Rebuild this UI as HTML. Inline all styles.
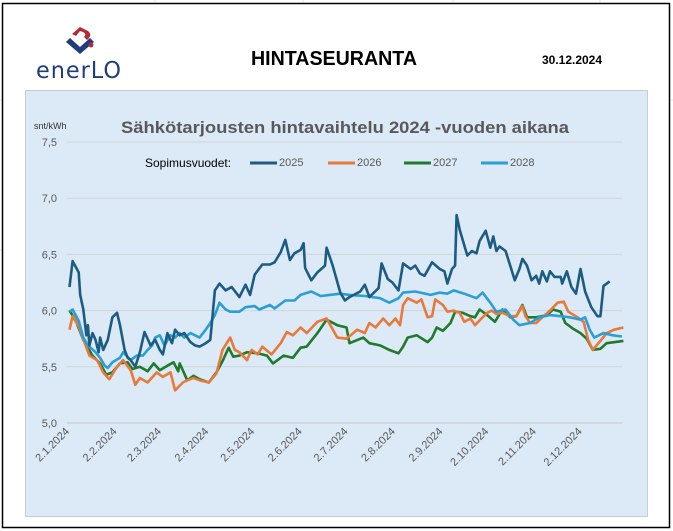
<!DOCTYPE html>
<html><head><meta charset="utf-8"><style>
html,body{margin:0;padding:0;background:#fff;}
svg{display:block;font-family:"Liberation Sans",sans-serif;}
</style></head><body>
<svg id="page" width="673" height="531" viewBox="0 0 673 531" xmlns="http://www.w3.org/2000/svg">
<g stroke="#e6e6e6" stroke-width="1">
<line x1="155" y1="0" x2="155" y2="4"/><line x1="303" y1="0" x2="303" y2="4"/><line x1="453" y1="0" x2="453" y2="4"/><line x1="600" y1="0" x2="600" y2="4"/>
<line x1="0" y1="100" x2="2" y2="100"/><line x1="0" y1="250" x2="2" y2="250"/><line x1="671" y1="100" x2="673" y2="100"/>
</g>
<rect x="2.5" y="3.5" width="667" height="524" fill="#fff" stroke="#000" stroke-width="1.5"/>
<g>
<path d="M66 42 L80 54 L94 42 L90 38 L80 47 L70 38 Z" fill="#1f3d7a"/>
<path d="M72 34 L80 27 L88 31 Q93 35 87 40 L84 37 Q87 34 83 32 L80 31 L76 36 Z" fill="#b52a38"/>
<circle cx="91" cy="45" r="2.5" fill="#b52a38"/>
<text x="36" y="78" font-size="23" fill="#1f3d7a" letter-spacing="1" font-family="DejaVu Sans,sans-serif" textLength="86" lengthAdjust="spacingAndGlyphs">enerLO</text>
</g>
<text x="334" y="65" font-size="20" font-weight="bold" text-anchor="middle" textLength="166" lengthAdjust="spacingAndGlyphs">HINTASEURANTA</text>
<text x="572" y="64" font-size="12" font-weight="bold" text-anchor="middle">30.12.2024</text>
<rect x="25.5" y="90.5" width="622" height="426" fill="#dce9f6" stroke="#c8ccd2"/>
<text x="345" y="133" font-size="17" font-weight="bold" fill="#595959" text-anchor="middle" textLength="448" lengthAdjust="spacingAndGlyphs">Sähkötarjousten hintavaihtelu 2024 -vuoden aikana</text>
<text x="34" y="129" font-size="9" fill="#333">snt/kWh</text>
<g id="grid"></g>
<g id="yticks"></g>
<g id="xticks"></g>
<g id="series"></g>
<g>
<text x="145" y="167" font-size="12" fill="#000">Sopimusvuodet:</text>
<g id="legend"></g>
</g>
</svg>
<script>
const yTicks=[5.0,5.5,6.0,6.5,7.0,7.5];
const xTickLabels=["2.1.2024","2.2.2024","2.3.2024","2.4.2024","2.5.2024","2.6.2024","2.7.2024","2.8.2024","2.9.2024","2.10.2024","2.11.2024","2.12.2024"];
const xTickDays=[0,31,60,91,121,152,182,213,244,274,305,335];
const seriesNames=["2025","2026","2027","2028"];
const colors=["#1d5c82","#e8793a","#1f7a2c","#2a9fd6"];
const days2025=[1,3,7,8,10,12,13,14,16,18,20,21,23,26,29,32,34,37,39,41,44,47,50,54,57,60,62,65,68,70,73,76,80,83,86,90,93,96,99,103,107,112,116,119,122,127,132,135,139,142,145,148,152,154,155,159,163,168,169,173,178,181,184,191,194,197,203,205,209,212,216,219,224,227,230,233,238,243,246,248,251,253,254,256,259,261,264,267,269,273,276,278,280,282,286,289,292,295,297,300,303,306,308,310,313,315,318,322,323,326,329,332,335,338,342,346,348,350,354];
const vals2025=[6.21,6.44,6.34,6.14,6.01,5.78,5.87,5.69,5.80,5.74,5.63,5.76,5.65,5.74,5.94,5.98,5.87,5.65,5.58,5.56,5.50,5.63,5.81,5.69,5.74,5.65,5.61,5.80,5.71,5.83,5.78,5.80,5.72,5.69,5.68,5.71,5.74,6.18,6.24,6.18,6.21,6.12,6.23,6.14,6.32,6.41,6.41,6.43,6.52,6.63,6.45,6.51,6.54,6.60,6.38,6.27,6.34,6.40,6.56,6.40,6.16,6.09,6.12,6.17,6.23,6.12,6.20,6.42,6.28,6.25,6.18,6.42,6.37,6.40,6.33,6.31,6.43,6.37,6.35,6.24,6.37,6.40,6.85,6.72,6.58,6.49,6.53,6.51,6.62,6.71,6.56,6.66,6.53,6.57,6.53,6.40,6.27,6.37,6.46,6.40,6.27,6.31,6.24,6.35,6.26,6.35,6.30,6.30,6.24,6.35,6.21,6.15,6.37,6.17,6.03,5.95,5.95,6.22,6.26];
const days2026=[1,3,7,11,14,19,23,27,32,36,41,44,47,52,58,62,67,70,75,78,82,86,92,97,101,106,109,112,117,120,124,127,133,139,143,147,152,156,163,169,176,182,189,194,197,201,206,210,214,217,219,222,228,231,235,238,240,245,248,252,256,259,263,266,271,274,277,280,284,289,293,297,299,302,306,310,315,320,324,327,333,337,340,343,348,352,357,363];
const vals2026=[5.83,5.95,5.86,5.71,5.60,5.56,5.45,5.39,5.50,5.56,5.47,5.34,5.40,5.36,5.45,5.41,5.45,5.29,5.36,5.38,5.40,5.38,5.36,5.44,5.65,5.76,5.65,5.63,5.56,5.65,5.61,5.68,5.61,5.71,5.81,5.78,5.85,5.80,5.90,5.93,5.76,5.75,5.83,5.80,5.89,5.85,5.93,5.87,5.93,5.87,6.05,6.11,6.07,6.10,5.94,5.95,6.10,6.05,5.99,6.00,5.98,5.90,5.93,5.87,5.94,5.98,6.00,5.97,5.98,5.95,5.95,6.04,5.95,5.89,5.89,5.94,6.00,6.07,6.08,5.99,5.94,5.90,5.74,5.65,5.73,5.80,5.83,5.85];
const days2027=[1,5,10,16,21,25,29,34,39,42,47,52,56,60,65,69,72,73,78,82,86,92,97,101,105,108,112,117,124,130,134,141,147,152,156,163,169,176,182,184,193,197,204,210,216,219,222,228,235,238,241,245,250,253,258,263,266,269,274,279,284,289,293,297,300,306,313,317,322,325,330,335,339,343,348,352,363];
const vals2027=[6.00,5.91,5.74,5.60,5.53,5.43,5.45,5.53,5.54,5.48,5.50,5.46,5.53,5.47,5.51,5.54,5.46,5.53,5.38,5.42,5.39,5.36,5.45,5.55,5.67,5.59,5.60,5.63,5.62,5.60,5.53,5.60,5.58,5.67,5.68,5.80,5.92,5.87,5.85,5.71,5.76,5.71,5.69,5.65,5.62,5.68,5.76,5.78,5.72,5.76,5.85,5.82,5.89,5.99,5.98,5.95,5.94,6.01,5.96,5.90,6.01,5.94,5.95,6.05,5.94,5.94,5.96,6.01,5.99,5.89,5.84,5.80,5.75,5.65,5.66,5.71,5.73];
const days2028=[1,3,7,10,13,18,21,24,26,29,34,36,41,45,49,52,55,57,60,63,67,70,73,76,80,83,86,90,93,96,99,103,106,112,116,122,125,132,135,142,148,152,159,165,171,178,184,194,204,210,216,219,227,237,243,248,252,259,267,271,276,280,286,291,295,302,308,315,322,328,335,338,341,344,350,356,362];
const vals2028=[5.99,6.01,5.91,5.76,5.69,5.63,5.58,5.51,5.49,5.54,5.58,5.63,5.56,5.60,5.60,5.65,5.69,5.76,5.78,5.69,5.78,5.76,5.80,5.76,5.80,5.78,5.76,5.83,5.89,5.96,6.07,6.01,5.99,5.99,6.03,6.04,6.01,6.05,6.02,6.09,6.09,6.14,6.17,6.13,6.14,6.15,6.14,6.13,6.11,6.07,6.11,6.16,6.17,6.14,6.16,6.15,6.18,6.15,6.11,6.16,6.07,5.99,6.01,5.92,5.87,5.89,5.94,5.96,5.95,5.94,5.92,5.94,5.83,5.76,5.80,5.78,5.77];

const NS="http://www.w3.org/2000/svg";
const X0=68,PXDAY=1.53,Y0=423,PXUNIT=112.4;
function xScale(d){return X0+d*PXDAY;}
function yScale(v){return Y0-(v-5)*PXUNIT;}
function mk(tag,attrs,parent){const e=document.createElementNS(NS,tag);for(const k in attrs)e.setAttribute(k,attrs[k]);parent.appendChild(e);return e;}
const grid=document.getElementById('grid'),yt=document.getElementById('yticks'),xt=document.getElementById('xticks');
yTicks.forEach(v=>{
  const l=mk('line',{x1:67,x2:622,y1:yScale(v),y2:yScale(v),stroke:v===5?'#c4c8cc':'#cfd5db','stroke-width':1},grid);
  
  
  const t=mk('text',{x:57,y:yScale(v)+4,'font-size':11,fill:'#595959','text-anchor':'end'},yt);
  t.textContent=v.toFixed(1).replace('.',',');
  
  
});
xTickDays.forEach((d,i)=>{
  const x=xScale(d)+2,y=432;
  const t=mk('text',{x:x,y:y,'font-size':11,fill:'#595959','text-anchor':'end',transform:`rotate(-45 ${x} ${y})`},xt);
  t.textContent=xTickLabels[i];
  
  
});
const sDays=[days2025,days2026,days2027,days2028],sVals=[vals2025,vals2026,vals2027,vals2028];
const order=[2,1,3,0];
const sg=document.getElementById('series');
order.forEach(i=>{
  const pts=sDays[i].map((d,j)=>xScale(d).toFixed(1)+','+yScale(sVals[i][j]).toFixed(1)).join(' ');
  const p=mk('polyline',{points:pts,fill:'none',stroke:colors[i],'stroke-width':2.6,'stroke-linejoin':'round'},sg);
  
  
});
const lg=document.getElementById('legend');
const legX=[250,328,404,481];
seriesNames.forEach((n,i)=>{
  const l=mk('line',{x1:legX[i],x2:legX[i]+27,y1:163,y2:163,stroke:colors[i],'stroke-width':3},lg);
  
  
  const t=mk('text',{x:legX[i]+29,y:166,'font-size':11,fill:'#595959'},lg);
  t.textContent=n;
  
  
});
</script>
</body></html>
